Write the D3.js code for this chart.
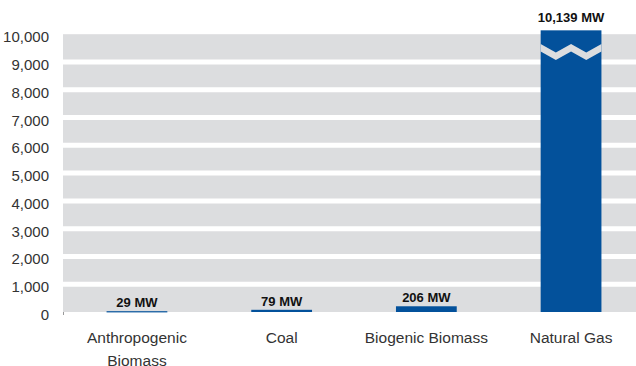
<!DOCTYPE html>
<html>
<head>
<meta charset="utf-8">
<script src="https://cdn.jsdelivr.net/npm/d3@7"></script>
<style>
  html, body { margin: 0; padding: 0; background: #fff; }
  svg { display: block; }
</style>
</head>
<body>
<svg id="chart" width="636" height="366"></svg>
<script>
const categories = ["Anthropogenic Biomass", "Coal", "Biogenic Biomass", "Natural Gas"];
const values = [29, 79, 206, 10139];
const valueLabels = ["29 MW", "79 MW", "206 MW", "10,139 MW"];
const yTicks = [0, 1000, 2000, 3000, 4000, 5000, 6000, 7000, 8000, 9000, 10000];
const breakCategory = "Natural Gas";
const breakValue = 9650;

const W = 636, H = 366;
const svg = d3.select("#chart");

const x = d3.scaleBand().domain(categories).range([64.6, 643.4]).paddingInner(0.58).paddingOuter(0.29);
const y = d3.scaleLinear().domain([0, 10000]).range([312, 34.2]);
const plotLeft = 63, plotRight = 640;

const GRAY = "#dcdddf", BLUE = "#03519b";

// background
svg.append("rect").attr("x", plotLeft).attr("y", y(10000)).attr("width", plotRight - plotLeft).attr("height", y(0) - y(10000)).attr("fill", GRAY);

// white gridlines
svg.append("g").selectAll("line").data(yTicks.filter(t => t > 0 && t < 10000)).join("line")
  .attr("x1", plotLeft).attr("x2", plotRight)
  .attr("y1", d => y(d)).attr("y2", d => y(d))
  .attr("stroke", "#fff").attr("stroke-width", 5);

// y axis labels
const yAxis = d3.axisLeft(y).tickValues(yTicks).tickFormat(d3.format(",")).tickSize(0).tickPadding(0);
const gy = svg.append("g").attr("transform", "translate(49,0)").call(yAxis);
gy.select(".domain").remove();
gy.selectAll("text").attr("font-family", "Liberation Sans, Arial, sans-serif").attr("font-size", 15).attr("fill", "#333").attr("dy", "0.5em");

// small tick at origin
svg.append("line").attr("x1", plotLeft + 0.5).attr("x2", plotLeft + 0.5).attr("y1", y(0)).attr("y2", y(0) + 3).attr("stroke", "#999").attr("stroke-width", 1);

// bars
const data = categories.map((c, i) => ({ c, v: values[i], label: valueLabels[i] }));
svg.append("g").selectAll("rect").data(data).join("rect")
  .attr("x", d => x(d.c)).attr("width", x.bandwidth())
  .attr("y", d => y(d.v)).attr("height", d => Math.max(1.2, y(0) - y(d.v)))
  .attr("fill", BLUE);

// break zigzag
const bx0 = x(breakCategory), bw = x.bandwidth(), by = y(breakValue);
const amp = 8.5, thick = 7.5;
const topPts = [[bx0, by], [bx0 + bw * 0.25, by + amp], [bx0 + bw * 0.5, by], [bx0 + bw * 0.75, by + amp], [bx0 + bw, by]];
const poly = topPts.concat(topPts.slice().reverse().map(p => [p[0], p[1] + thick]));
svg.append("path").attr("d", d3.line()(poly) + "Z").attr("fill", GRAY);

// value labels
svg.append("g").selectAll("text").data(data).join("text")
  .attr("x", d => x(d.c) + x.bandwidth() / 2)
  .attr("y", d => Math.min(y(d.v), y(0) - 1.2) - (d.v > 5000 ? 8 : 4))
  .attr("text-anchor", "middle")
  .attr("font-family", "Liberation Sans, Arial, sans-serif").attr("font-weight", "bold").attr("font-size", 13)
  .attr("fill", "#111")
  .text(d => d.label);

// category labels
const gx = svg.append("g");
data.forEach(d => {
  const words = d.c.split(" ");
  let lines = [];
  if (d.c === "Anthropogenic Biomass") lines = ["Anthropogenic", "Biomass"]; else lines = [d.c];
  const t = gx.append("text")
    .attr("x", x(d.c) + x.bandwidth() / 2).attr("y", 343)
    .attr("text-anchor", "middle")
    .attr("font-family", "Liberation Sans, Arial, sans-serif").attr("font-size", 15.5).attr("fill", "#333");
  lines.forEach((l, i) => t.append("tspan").attr("x", x(d.c) + x.bandwidth() / 2).attr("dy", i === 0 ? 0 : 23).text(l));
});
</script>
</body>
</html>
